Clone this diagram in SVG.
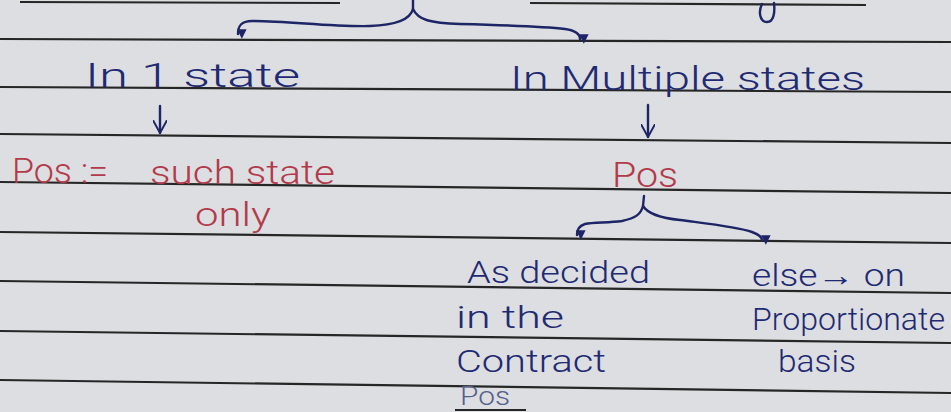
<svg xmlns="http://www.w3.org/2000/svg" width="951" height="412" viewBox="0 0 951 412">
<style>
.rule{stroke:#262626;stroke-width:2.2;fill:none}
.ink{stroke:#1d2566;stroke-width:2.4;fill:none;stroke-linecap:round;stroke-linejoin:round}
text{font-family:Roboto,"Open Sans","Liberation Sans",sans-serif;font-weight:300}
.blue{fill:#1f2a72}
.red{fill:#b23a4a}
.faded{fill:#55608a}
</style>
<defs>
<marker id="tip" viewBox="0 0 10 10" refX="5" refY="9" markerWidth="4" markerHeight="4" orient="auto-start-reverse" markerUnits="strokeWidth">
<path d="M0,0 L10,0 L5,10 Z" fill="#1d2566" transform="rotate(-90 5 5)"/>
</marker>
<marker id="vee" viewBox="0 0 12 12" refX="11" refY="6" markerWidth="6" markerHeight="6" orient="auto" markerUnits="strokeWidth">
<path d="M0,0 L11,6 L0,12" fill="none" stroke="#1d2566" stroke-width="1.6"/>
</marker>
</defs>
<rect width="951" height="412" fill="#dcdee1"/>
<g id="ruling">
<path class="rule" d="M20,2 L340,3" stroke-width="3"/>
<path class="rule" d="M530,3 L866,5" stroke-width="3"/>
<path class="ink" d="M762,4 C758,12 760,22 767,22 C774,22 775,12 774,3"/>
<path class="rule" d="M0,39 L951,42"/>
<path class="rule" d="M0,87 L951,92"/>
<path class="rule" d="M0,134 L951,143"/>
<path class="rule" d="M0,182 L951,193"/>
<path class="rule" d="M0,232 L951,243"/>
<path class="rule" d="M0,281 L951,293"/>
<path class="rule" d="M0,331 L951,343"/>
<path class="rule" d="M0,380 L951,393"/>
<path class="rule" d="M455,410 L526,410" stroke-width="3"/>
</g>
<g id="connectors">
<path class="ink" d="M413,0 L413,9 C410,20 396,25 370,26 C330,27 290,21 252,21 C241,21 238,26 238,34" marker-end="url(#tip)"/>
<path class="ink" d="M413,9 C418,20 430,23 460,24 C500,25 540,26 565,29 C578,31 580,35 580,39" marker-end="url(#tip)"/>
<path class="ink" d="M160,106 L160,133" marker-end="url(#vee)"/>
<path class="ink" d="M648,105 L648,137" marker-end="url(#vee)"/>
<path class="ink" d="M644,196 L643,206 C641,214 636,218 622,221 C608,223 594,222 585,224 C578,226 577,231 577,235" marker-end="url(#tip)"/>
<path class="ink" d="M643,206 C648,214 660,218 680,220 C710,224 738,227 752,232 C760,235 762,238 762,240" marker-end="url(#tip)"/>
</g>
<g id="node-one-state">
<text class="blue" x="85" y="87" font-size="33" textLength="215" lengthAdjust="spacingAndGlyphs">In 1 state</text>
</g>
<g id="node-multiple-states">
<text class="blue" x="510" y="90" font-size="33" textLength="355" lengthAdjust="spacingAndGlyphs">In Multiple states</text>
</g>
<g id="node-pos-such-state">
<text class="red" x="12" y="183" font-size="35" textLength="96" lengthAdjust="spacingAndGlyphs">Pos :=</text>
<text class="red" x="150" y="184" font-size="33" textLength="185" lengthAdjust="spacingAndGlyphs">such state</text>
<text class="red" x="195" y="226" font-size="33" textLength="76" lengthAdjust="spacingAndGlyphs">only</text>
</g>
<g id="node-pos">
<text class="red" x="612" y="187" font-size="35" textLength="66" lengthAdjust="spacingAndGlyphs">Pos</text>
</g>
<g id="node-contract">
<text class="blue" x="467" y="283" font-size="31" textLength="183" lengthAdjust="spacingAndGlyphs">As decided</text>
<text class="blue" x="456" y="328" font-size="31" textLength="108" lengthAdjust="spacingAndGlyphs">in the</text>
<text class="blue" x="456" y="372" font-size="31" textLength="150" lengthAdjust="spacingAndGlyphs">Contract</text>
<text class="faded" x="460" y="405" font-size="25" textLength="50" lengthAdjust="spacingAndGlyphs">Pos</text>
</g>
<g id="node-proportionate">
<text class="blue" x="752" y="286" font-size="31" textLength="153" lengthAdjust="spacingAndGlyphs">else→ on</text>
<text class="blue" x="752" y="330" font-size="31" textLength="193" lengthAdjust="spacingAndGlyphs">Proportionate</text>
<text class="blue" x="778" y="372" font-size="31" textLength="78" lengthAdjust="spacingAndGlyphs">basis</text>
</g>
</svg>
